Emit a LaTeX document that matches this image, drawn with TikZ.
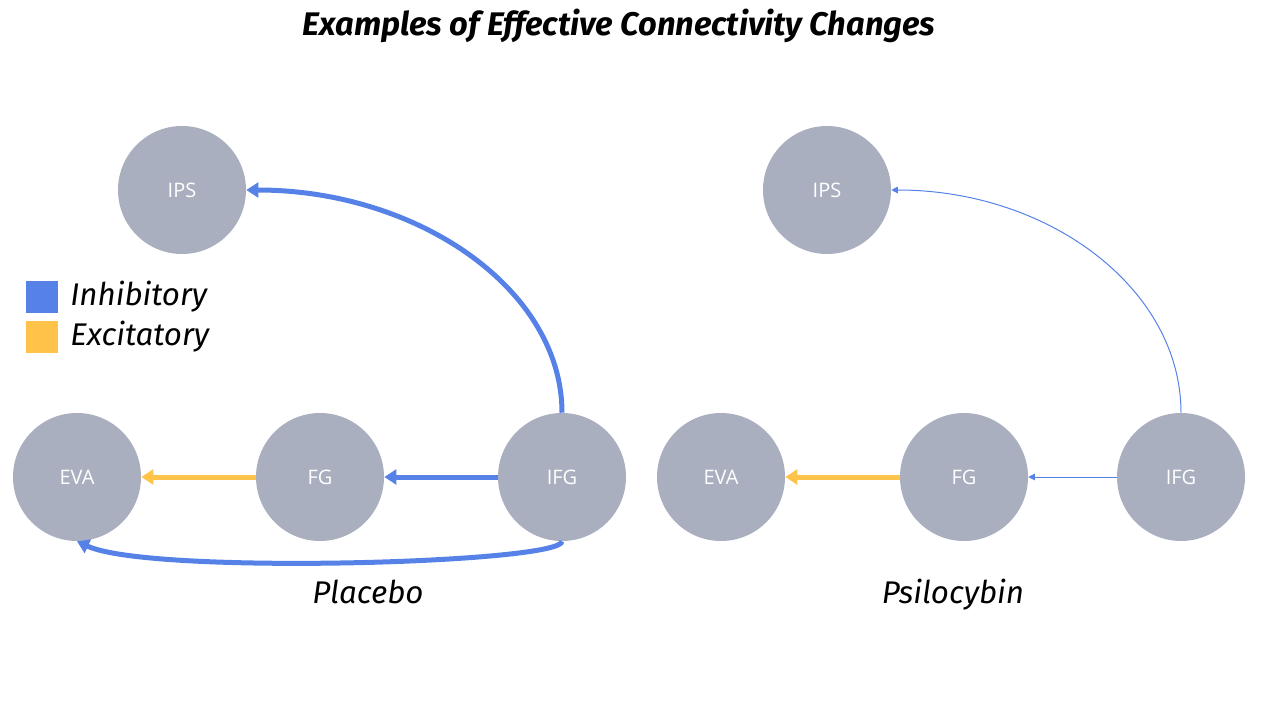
\documentclass[tikz,border=0pt]{standalone}
\usepackage{fontspec}
\usetikzlibrary{arrows.meta}
\newfontfamily\handfont{Fira Sans}
\newfontfamily\nodefont{Open Sans}
\definecolor{inhib}{RGB}{86,130,232}
\definecolor{excit}{RGB}{255,195,74}
\definecolor{region}{RGB}{169,175,191}
\tikzset{
  region/.style={circle,fill=region,draw=none,minimum size=96pt,inner sep=0pt,
    text=white,font=\nodefont\fontsize{15}{18}\selectfont},
  thickinh/.style={draw=inhib,line width=3.75pt,-{Triangle[length=9pt,width=11pt]}},
  thickexc/.style={draw=excit,line width=3.75pt,-{Triangle[length=9pt,width=11pt]}},
  thininh/.style={draw=inhib,line width=0.75pt,-{Triangle[length=5pt,width=5pt]}},
  hand/.style={font=\handfont\itshape\fontsize{23.5}{27}\selectfont,text=black,inner sep=0pt},
  swatch/.style={minimum size=24pt,inner sep=0pt,draw=none}
}
\begin{document}
\begin{tikzpicture}[x=0.75pt,y=-0.75pt]
\useasboundingbox (0,0) rectangle (1280,720);
\node[hand,font=\handfont\bfseries\itshape\fontsize{24.5}{28}\selectfont] (title) at (619,26) {Examples of Effective Connectivity Changes};
% Placebo
\node[region] (ipsA) at (182,190) {IPS};
\node[region] (evaA) at (77,477) {EVA};
\node[region] (fgA) at (320,477) {FG};
\node[region] (ifgA) at (562,477) {IFG};
\draw[thickinh] (ifgA.north) .. controls +(0,-123) and +(172,0) .. (ipsA.east);
\draw[thickinh] (ifgA.west) -- (fgA.east);
\draw[thickexc] (fgA.west) -- (evaA.east);
\draw[thickinh] (ifgA.south) .. controls +(0,22) and +(73,34) .. (evaA.south);
\node[hand,anchor=base] (plc) at (368,603) {Placebo};
% Psilocybin
\node[region] (ipsB) at (827,190) {IPS};
\node[region] (evaB) at (721,477) {EVA};
\node[region] (fgB) at (964,477) {FG};
\node[region] (ifgB) at (1181,477) {IFG};
\draw[thininh] (ifgB.north) .. controls +(0,-123) and +(159,0) .. (ipsB.east);
\draw[thininh] (ifgB.west) -- (fgB.east);
\draw[thickexc] (fgB.west) -- (evaB.east);
\node[hand,anchor=base] (psi) at (953,603) {Psilocybin};
% Legend
\node[swatch,fill=inhib] (swI) at (42,297) {};
\node[swatch,fill=excit] (swE) at (42,337) {};
\node[hand,anchor=west] (lgI) at (70,297) {Inhibitory};
\node[hand,anchor=west] (lgE) at (70,337) {Excitatory};
\end{tikzpicture}
\end{document}
